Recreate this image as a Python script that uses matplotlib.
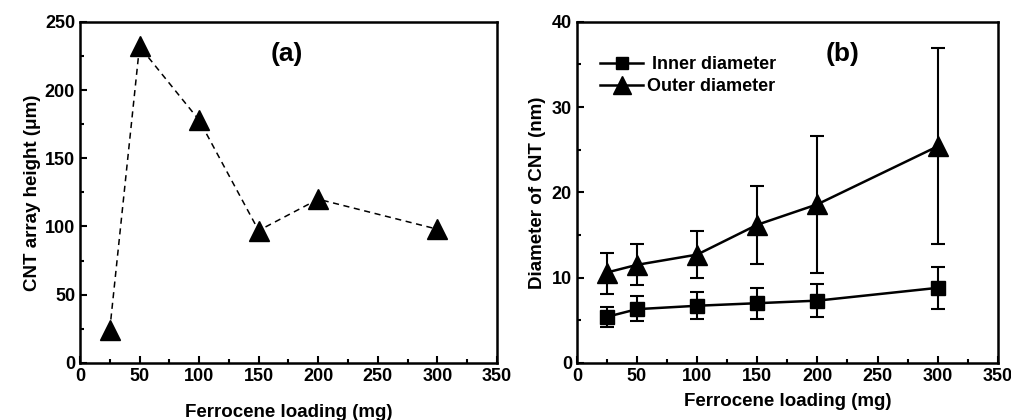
import matplotlib
matplotlib.use('Agg')
import matplotlib.pyplot as plt
from matplotlib.ticker import MultipleLocator

plt.rcParams['font.family'] = ['Liberation Sans', 'DejaVu Sans']
plt.rcParams['font.weight'] = 'bold'

# panel (a): array height vs ferrocene loading
loading = [25, 50, 100, 150, 200, 300]
height_um = [24, 232, 178, 97, 120, 98]

# panel (b): diameters with error bars (lower / upper ends)
inner_d = [5.4, 6.3, 6.7, 7.0, 7.3, 8.8]
inner_lo = [4.2, 4.9, 5.1, 5.2, 5.4, 6.3]
inner_hi = [6.6, 7.9, 8.3, 8.8, 9.2, 11.3]
outer_d = [10.6, 11.5, 12.7, 16.2, 18.6, 25.4]
outer_lo = [8.1, 9.1, 9.9, 11.6, 10.6, 13.9]
outer_hi = [12.9, 14.0, 15.5, 20.8, 26.6, 36.9]

fig = plt.figure(figsize=(10.12, 4.2), dpi=100)
ax1 = fig.add_axes([0.079, 0.136, 0.412, 0.812])
ax2 = fig.add_axes([0.570, 0.136, 0.416, 0.812])


def style_axes(ax, xpad):
    for sp in ax.spines.values():
        sp.set_linewidth(1.8)
    ax.tick_params(which='both', direction='in', top=False, right=False,
                   labelsize=13, width=1.5)
    ax.tick_params(which='major', length=5)
    ax.tick_params(which='minor', length=3)
    ax.set_xlim(0, 350)
    ax.xaxis.set_major_locator(MultipleLocator(50))
    ax.xaxis.set_minor_locator(MultipleLocator(25))
    ax.set_xlabel('Ferrocene loading (mg)', fontsize=13.5, fontweight='bold', labelpad=xpad)


ax1.plot(loading, height_um, color='black', ls='--', lw=1.1, dashes=(4, 3),
         marker='^', ms=14)
ax1.set_ylim(0, 250)
ax1.yaxis.set_major_locator(MultipleLocator(50))
ax1.yaxis.set_minor_locator(MultipleLocator(25))
ax1.set_ylabel('CNT array height (\u03bcm)', fontsize=13.5, fontweight='bold', labelpad=3)
ax1.text(0.495, 0.905, '(a)', transform=ax1.transAxes, fontsize=19, fontweight='bold',
         ha='center', va='center')
style_axes(ax1, 14)

in_err = [[m - lo for m, lo in zip(inner_d, inner_lo)], [hi - m for m, hi in zip(inner_d, inner_hi)]]
out_err = [[m - lo for m, lo in zip(outer_d, outer_lo)], [hi - m for m, hi in zip(outer_d, outer_hi)]]
eb_in = ax2.errorbar(loading, inner_d, yerr=in_err, color='black', lw=1.8, marker='s', ms=10,
                     capsize=5, elinewidth=1.5, capthick=1.5)
eb_out = ax2.errorbar(loading, outer_d, yerr=out_err, color='black', lw=1.8, marker='^', ms=14,
                      capsize=5, elinewidth=1.5, capthick=1.5)
ax2.set_ylim(0, 40)
ax2.yaxis.set_major_locator(MultipleLocator(10))
ax2.yaxis.set_minor_locator(MultipleLocator(5))
ax2.set_ylabel('Diameter of CNT (nm)', fontsize=13.5, fontweight='bold')
ax2.text(0.63, 0.905, '(b)', transform=ax2.transAxes, fontsize=19, fontweight='bold',
         ha='center', va='center')
ax2.legend([eb_in[0], eb_out[0]], [' Inner diameter', 'Outer diameter'],
           loc='upper left', bbox_to_anchor=(0.055, 0.9), frameon=False, fontsize=13,
           handlelength=2.4, handletextpad=0.2, labelspacing=0.3, borderaxespad=0,
           borderpad=0, markerscale=0.9)
style_axes(ax2, 6)

fig.savefig('out.png', dpi=100)
